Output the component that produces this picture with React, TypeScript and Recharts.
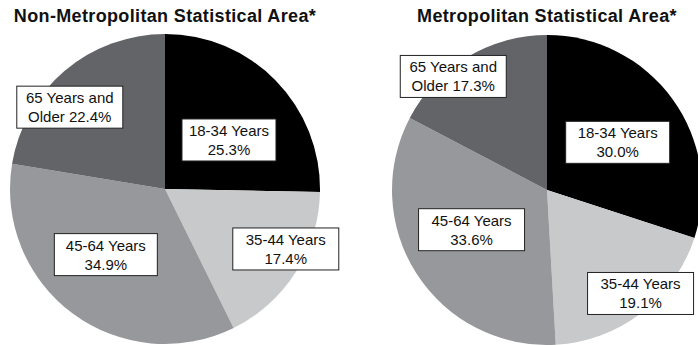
import React from 'react';
import { PieChart, Pie, Cell } from 'recharts';

// age groups, clockwise from 12 o'clock
const ageGroups = ['18-34 Years', '35-44 Years', '45-64 Years', '65 Years and'];
const secondLinePrefix = ['', '', '', 'Older '];
const nonMetroShares = [25.3, 17.4, 34.9, 22.4];
const metroShares = [30.0, 19.1, 33.6, 17.3];
const titles = ['Non-Metropolitan Statistical Area*', 'Metropolitan Statistical Area*'];

const COLORS = ['#000000', '#c8c9cb', '#97989b', '#636468'];
const FONT = '"Liberation Sans", Arial, Helvetica, sans-serif';

// label box placement: [radius fraction, angle nudge in deg, box width]
const nonMetroLabelLayout = [
  [0.52, -7, 94],
  [0.87, 6, 106],
  [0.57, -5.5, 103],
  [0.81, 9, 106],
];
const metroLabelLayout = [
  [0.55, -2, 104],
  [0.9, 4.5, 106],
  [0.55, -5, 106],
  [0.95, 8.4, 106],
];

const RAD = Math.PI / 180;

const makeData = (shares: number[]) =>
  ageGroups.map((name, i) => ({ name, value: shares[i], line2: `${secondLinePrefix[i]}${shares[i].toFixed(1)}%` }));

const makeLabel = (layout: number[][]) => (props: any) => {
  const { cx, cy, midAngle, outerRadius, index, payload } = props;
  const [f, nudge, w] = layout[index];
  const a = (midAngle + nudge) * RAD;
  const x = cx + outerRadius * f * Math.cos(a);
  const y = cy - outerRadius * f * Math.sin(a);
  const h = 42;
  const name = payload?.name ?? ageGroups[index];
  const line2 = payload?.line2 ?? '';
  return (
    <g>
      <rect x={x - w / 2} y={y - h / 2} width={w} height={h} fill="#ffffff" stroke="#222222" strokeWidth={1} />
      <text x={x} y={y - 4} textAnchor="middle" fontSize={15} fontFamily={FONT} fill="#111111">
        {name}
      </text>
      <text x={x} y={y + 15} textAnchor="middle" fontSize={15} fontFamily={FONT} fill="#111111">
        {line2}
      </text>
    </g>
  );
};

const titleStyle: React.CSSProperties = {
  position: 'absolute',
  top: 6,
  width: 340,
  textAlign: 'center',
  fontFamily: FONT,
  fontWeight: 'bold',
  fontSize: 18,
  letterSpacing: 0.35,
  color: '#111',
  whiteSpace: 'nowrap',
};

const App = () => {
  const nonMetro = makeData(nonMetroShares);
  const metro = makeData(metroShares);
  return (
    <div style={{ position: 'absolute', left: 0, top: 0, width: 698, height: 345, background: '#ffffff', overflow: 'hidden' }}>
      <PieChart width={698} height={345} margin={{ top: 0, right: 0, bottom: 0, left: 0 }} style={{ position: 'absolute', left: 0, top: 0 }}>
        <Pie
          data={nonMetro}
          dataKey="value"
          cx={165}
          cy={189}
          outerRadius={155}
          startAngle={90}
          endAngle={-270}
          stroke="none"
          labelLine={false}
          label={makeLabel(nonMetroLabelLayout)}
          isAnimationActive={false}
        >
          {nonMetro.map((d, i) => (
            <Cell key={d.name} fill={COLORS[i]} />
          ))}
        </Pie>
        <Pie
          data={metro}
          dataKey="value"
          cx={547}
          cy={190}
          outerRadius={155}
          startAngle={90}
          endAngle={-270}
          stroke="none"
          labelLine={false}
          label={makeLabel(metroLabelLayout)}
          isAnimationActive={false}
        >
          {metro.map((d, i) => (
            <Cell key={d.name} fill={COLORS[i]} />
          ))}
        </Pie>
      </PieChart>
      <div style={{ ...titleStyle, left: 165 - 170 }}>{titles[0]}</div>
      <div style={{ ...titleStyle, left: 547 - 170 }}>{titles[1]}</div>
    </div>
  );
};

export default App;
